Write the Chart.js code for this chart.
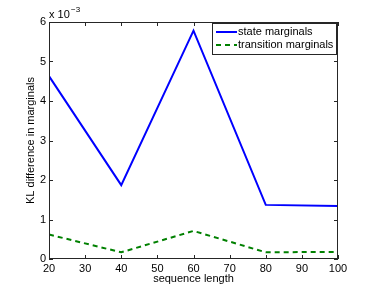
<!DOCTYPE html>
<html>
<head>
<meta charset="utf-8">
<script src="https://cdn.jsdelivr.net/npm/chart.js@4.4.1/dist/chart.umd.min.js"></script>
<style>
  html, body { margin: 0; padding: 0; background: #fff; }
  #wrap { width: 374px; height: 292px; }
</style>
</head>
<body>
<div id="wrap"><canvas id="klChart" width="374" height="292"></canvas></div>
<script>
// sequence lengths
const seqLengths = [20, 40, 60, 80, 100];
// KL difference, in units of 1e-3
const stateMarginals = [4.63, 1.87, 5.78, 1.37, 1.34];
const transitionMarginals = [0.62, 0.17, 0.71, 0.17, 0.18];
const xTicks = [20, 30, 40, 50, 60, 70, 80, 90, 100];
const yTicks = [0, 1, 2, 3, 4, 5, 6];

const FONT = 'Liberation Sans, Arial, sans-serif';

const toPoints = (vals) => vals.map((v, i) => ({ x: seqLengths[i], y: v }));

// box, inward ticks, exponent label and legend drawn matlab style
const matlabFrame = {
    id: 'matlabFrame',
    afterDraw(chart) {
        const ctx = chart.ctx;
        const a = chart.chartArea;
        const xs = chart.scales.x;
        const ys = chart.scales.y;
        ctx.save();
        ctx.strokeStyle = '#262626';
        ctx.lineWidth = 1;
        ctx.strokeRect(a.left + 0.5, a.top + 0.5, a.right - a.left - 1, a.bottom - a.top - 1);
        ctx.beginPath();
        xTicks.forEach(t => {
            const px = Math.round(xs.getPixelForValue(t)) + 0.5;
            ctx.moveTo(px, a.bottom); ctx.lineTo(px, a.bottom - 4);
            ctx.moveTo(px, a.top); ctx.lineTo(px, a.top + 4);
        });
        yTicks.forEach(t => {
            const py = Math.round(ys.getPixelForValue(t)) + 0.5;
            ctx.moveTo(a.left, py); ctx.lineTo(a.left + 4, py);
            ctx.moveTo(a.right, py); ctx.lineTo(a.right - 4, py);
        });
        ctx.stroke();

        // exponent
        ctx.fillStyle = '#000';
        ctx.font = '11px ' + FONT;
        ctx.textBaseline = 'alphabetic';
        ctx.textAlign = 'left';
        ctx.fillText('x 10', a.left, a.top - 4);
        ctx.font = '8px ' + FONT;
        ctx.fillText('\u22123', a.left + 22, a.top - 10);

        // legend
        const lx = 212, ly = 23, lw = 124, lh = 31;
        ctx.fillStyle = '#fff';
        ctx.fillRect(lx, ly, lw, lh);
        ctx.strokeStyle = '#262626';
        ctx.lineWidth = 1;
        ctx.strokeRect(lx + 0.5, ly + 0.5, lw, lh);
        ctx.font = '11px ' + FONT;
        ctx.textBaseline = 'middle';
        chart.data.datasets.forEach((ds, i) => {
            const yy = ly + 9 + i * 13;
            ctx.strokeStyle = ds.borderColor;
            ctx.lineWidth = 2;
            ctx.setLineDash(ds.borderDash || []);
            ctx.beginPath();
            ctx.moveTo(lx + 4, yy); ctx.lineTo(lx + 25, yy);
            ctx.stroke();
            ctx.setLineDash([]);
            ctx.fillStyle = '#000';
            ctx.fillText(ds.label, lx + 26, yy);
        });
        ctx.restore();
    }
};

new Chart(document.getElementById('klChart'), {
    type: 'line',
    data: {
        datasets: [{
            label: 'state marginals',
            data: toPoints(stateMarginals),
            borderColor: '#0000ff',
            borderWidth: 2,
            pointRadius: 0,
            tension: 0,
            fill: false
        }, {
            label: 'transition marginals',
            data: toPoints(transitionMarginals),
            borderColor: '#008000',
            borderWidth: 2,
            borderDash: [5, 4],
            pointRadius: 0,
            tension: 0,
            fill: false
        }]
    },
    options: {
        responsive: false,
        animation: false,
        layout: { padding: { top: 22, right: 36, left: 0, bottom: 0 } },
        plugins: {
            legend: { display: false },
            tooltip: { enabled: false }
        },
        scales: {
            x: {
                type: 'linear',
                min: 20,
                max: 100,
                afterBuildTicks: s => { s.ticks = xTicks.map(v => ({ value: v })); },
                afterFit: s => { s.height = 33; },
                grid: { display: false, drawTicks: false },
                border: { display: false },
                ticks: { color: '#000', font: { family: FONT, size: 11 }, padding: 3, maxRotation: 0 },
                title: { display: true, text: 'sequence length', color: '#000', font: { family: FONT, size: 11 }, padding: { top: 0, bottom: 6 } }
            },
            y: {
                min: 0,
                max: 6,
                afterBuildTicks: s => { s.ticks = yTicks.map(v => ({ value: v })); },
                afterFit: s => { s.width = 49; },
                grid: { display: false, drawTicks: false },
                border: { display: false },
                ticks: { color: '#000', font: { family: FONT, size: 11 }, padding: 3 },
                title: { display: true, text: 'KL difference in marginals', color: '#000', font: { family: FONT, size: 11 }, padding: { top: 24, bottom: 0 } }
            }
        }
    },
    plugins: [matlabFrame]
});
</script>
</body>
</html>
